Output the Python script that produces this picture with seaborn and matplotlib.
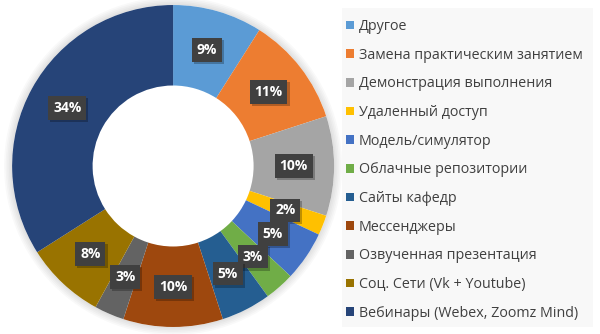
import matplotlib
matplotlib.use("Agg")
import matplotlib.pyplot as plt
import matplotlib.patheffects as pe
from matplotlib.patches import Patch, Wedge, Rectangle
import seaborn as sns
import numpy as np

categories = [
    "Другое",
    "Замена практическим занятием",
    "Демонстрация выполнения",
    "Удаленный доступ",
    "Модель/симулятор",
    "Облачные репозитории",
    "Сайты кафедр",
    "Мессенджеры",
    "Озвученная презентация",
    "Соц. Сети (Vk + Youtube)",
    "Вебинары (Webex, Zoomz Mind)",
]
shares = [9, 11, 10, 2, 5, 3, 5, 10, 3, 8, 34]
colors = ["#5B9BD5", "#ED7D31", "#A5A5A5", "#FFC000", "#4472C4", "#70AD47",
          "#255E91", "#9E480E", "#636363", "#997300", "#264478"]

sns.set_theme(style="white")
plt.rcParams["font.family"] = ["Open Sans", "DejaVu Sans"]
palette = sns.color_palette(colors)

fig = plt.figure(figsize=(6.0, 3.34), dpi=100)
fig.patch.set_facecolor("white")

ax = fig.add_axes([0.02, 0.021, 0.537, 0.964])

ring_width = 0.5
wedges, _ = ax.pie(shares, colors=palette, startangle=90, counterclock=False,
                   radius=1.0, wedgeprops=dict(width=ring_width, linewidth=0))
for w in wedges:
    w.set_zorder(2)

ax.set_xlim(-1.0, 1.0)
ax.set_ylim(-1.0, 1.0)
ax.set_aspect("equal")
ax.axis("off")

# soft halo around the outside of the ring
for r in np.linspace(1.05, 1.01, 5):
    ax.add_patch(Wedge((0, 0), r, 0, 360, width=r - 1.0, color="#000000",
                       alpha=0.025, lw=0, zorder=1, clip_on=False))

total = sum(shares)
start = 90.0
mid_r = 1.0 - ring_width / 2
for val in shares:
    sweep = 360.0 * val / total
    ang = np.deg2rad(start - sweep / 2)
    start -= sweep
    x, y = mid_r * np.cos(ang), mid_r * np.sin(ang)
    t = ax.text(x, y, f"{val}%", ha="center", va="center", color="white",
                fontsize=10, fontweight="bold", zorder=5,
                bbox=dict(boxstyle="square,pad=0.35", fc="#404040", ec="none"))
    t.get_bbox_patch().set_path_effects(
        [pe.SimplePatchShadow(offset=(1.5, -1.5), shadow_rgbFace="black",
                              alpha=0.25), pe.Normal()])

# legend panel
fig.patches.append(Rectangle((342 / 600, 1 - 327 / 334), (593 - 342) / 600,
                             (327 - 8) / 334, transform=fig.transFigure,
                             facecolor="#F8F8F8", edgecolor="none", zorder=0))

handles = [Patch(facecolor=c, edgecolor="none") for c in palette]
leg = fig.legend(handles, categories, loc="upper left",
                 bbox_to_anchor=(346 / 600, 1 - 19 / 334), frameon=False,
                 fontsize=10.3, handlelength=0.55, handleheight=0.55,
                 handletextpad=0.35, labelspacing=0.955, borderpad=0.0,
                 borderaxespad=0.0)
for t in leg.get_texts():
    t.set_color("#404040")

fig.savefig("out.png", dpi=100, facecolor="white")
